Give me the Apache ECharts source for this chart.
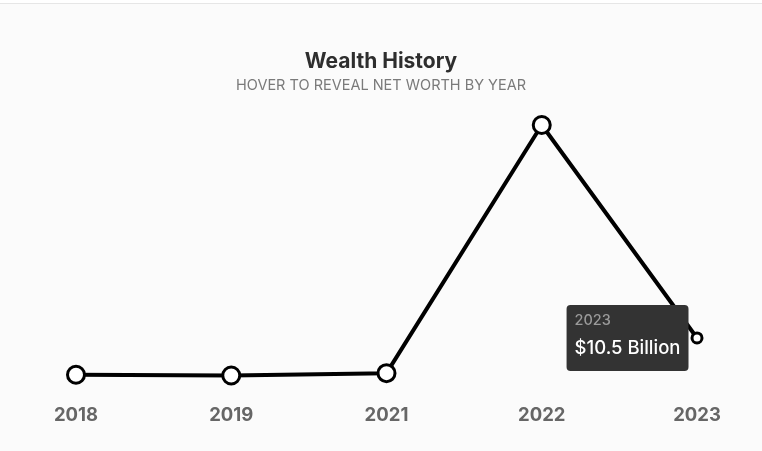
<!DOCTYPE html>
<html><head><meta charset="utf-8">
<script src="https://cdn.jsdelivr.net/npm/echarts@6/dist/echarts.min.js"></script>
<style>
html,body{margin:0;padding:0;background:#fbfbfb;}
#top{height:3px;background:#fff;border-bottom:1px solid #e6e6e6;}
#c{width:762px;height:447px;}
</style></head>
<body><div id="top"></div><div id="c"></div>
<script>
const years = ['2018','2019','2021','2022','2023'];
const netWorth = [1.1, 0.9, 1.5, 65, 10.5];
const highlightIndex = 4;

const chart = echarts.init(document.getElementById('c'), null, {renderer:'canvas'});
const data = netWorth.map((v,i)=> i===highlightIndex ? {
  value:v, symbolSize:10,
  label:{show:true, position:'left', distance:2,
    backgroundColor:'#333333', borderRadius:4, padding:[5,8,6,8],
    formatter: p => '{y|'+years[p.dataIndex]+'}\n{v|$'+p.value+' Billion}',
    rich:{
      y:{color:'#9a9a9a', fontSize:14.5, fontFamily:'Inter, sans-serif', fontWeight:500, lineHeight:21, align:'left', width:103},
      v:{color:'#ffffff', fontSize:18.5, fontFamily:'Inter, sans-serif', fontWeight:500, lineHeight:34, align:'left'}
    }}
} : v);

chart.setOption({
  animation:false,
  backgroundColor:'#fbfbfb',
  title:{
    text:'Wealth History', subtext:'HOVER TO REVEAL NET WORTH BY YEAR',
    left:'center', top:42, itemGap:6,
    textStyle:{color:'#2e2e2e', fontSize:21, fontWeight:'bold', fontFamily:'Inter, sans-serif'},
    subtextStyle:{color:'#7a7a7a', fontSize:14.5, fontFamily:'Inter, sans-serif'}
  },
  grid:{left:76, right:65, top:121, bottom:72},
  xAxis:{type:'category', data:years, boundaryGap:false,
    axisLine:{show:false}, axisTick:{show:false}, splitLine:{show:false},
    axisLabel:{color:'#666', fontSize:18.5, fontWeight:'bold', fontFamily:'Inter, sans-serif', margin:27}},
  yAxis:{type:'value', min:0, max:65, show:false},
  series:[{
    type:'line', data:data,
    symbol:'circle', symbolSize:17,
    lineStyle:{color:'#000', width:4},
    itemStyle:{color:'#fff', borderColor:'#000', borderWidth:3}
  }]
});
</script></body></html>
